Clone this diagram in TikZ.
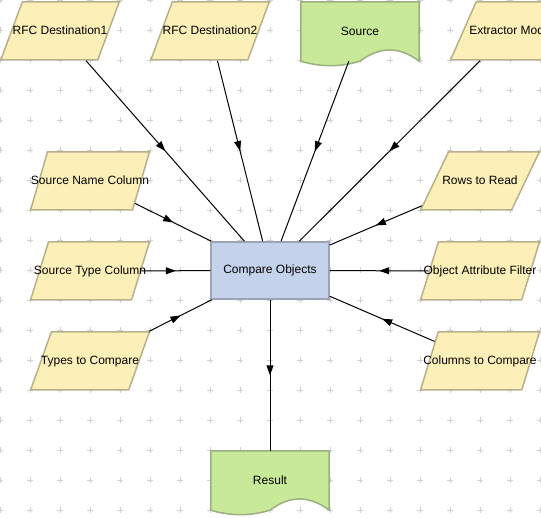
\documentclass[tikz,border=0pt]{standalone}
\usepackage{fontspec}
\setmainfont{Liberation Sans}
\usetikzlibrary{shapes.geometric, arrows.meta, decorations.markings, backgrounds}
\definecolor{parfill}{HTML}{FCF0B8}
\definecolor{pardraw}{HTML}{B8B08C}
\definecolor{docfill}{HTML}{C8EA98}
\definecolor{docdraw}{HTML}{9AB080}
\definecolor{boxfill}{HTML}{C4D2EC}
\definecolor{boxdraw}{HTML}{9AA4B6}
\definecolor{gridgray}{HTML}{D0D0D0}

\begin{document}
\begin{tikzpicture}[x=1pt, y=-1pt, font=\fontsize{12}{14}\selectfont,
    param/.style={trapezium, trapezium left angle=75, trapezium right angle=105,
      trapezium stretches=true, draw=pardraw, fill=parfill, line width=1.5pt,
      minimum width=119pt, text height=8.6pt, text depth=2.4pt,
      inner xsep=-20pt, inner ysep=23.5pt},
    doc/.style={minimum width=118pt, minimum height=59pt, inner sep=0pt},
    docshape/.style={draw=docdraw, fill=docfill, line width=1.5pt},
    task/.style={draw=boxdraw, fill=boxfill, line width=1.5pt,
      minimum width=118pt, minimum height=57pt},
    flow/.style={black, line width=1pt, postaction={decorate},
      decoration={markings, mark=at position 0.5 with {\arrow{Triangle[length=10pt,width=7pt]}}}},
    gridmark/.style={gridgray, line width=0.8pt}]
    \useasboundingbox (0,0) rectangle (541,518);

    \node[param] (rfc1) at (60,31) {RFC Destination1};
    \node[param] (rfc2) at (210,31) {RFC Destination2};
    \node[doc] (src) at (360,31.5) {Source};
    \node[param] (extr) at (510,31) {Extractor Mode};

    \node[param] (snc) at (90,181) {Source Name Column};
    \node[param] (stc) at (90,271) {Source Type Column};
    \node[param] (ttc) at (90,361) {Types to Compare};
    \node[param] (rtr) at (480,181) {Rows to Read};
    \node[param] (oaf) at (480,271) {Object Attribute Filter};
    \node[param] (ctc) at (480,361) {Columns to Compare};

    \node[task] (cmp) at (270,270.5) {Compare Objects};
    \node[doc] (res) at (270,480.5) {Result};

    \begin{scope}[on background layer]
    \foreach \x in {0,30,...,540}{\foreach \y in {0,30,...,510}{\draw[gridmark] (\x-3,\y)--(\x+3,\y) (\x,\y-3)--(\x,\y+3);}}
    \foreach \n in {src,res}{
      \draw[docshape] (\n.north west) -- (\n.north east) -- (\n.south east)
        .. controls +(-20,-15) and +(20,-15) .. (\n.south)
        .. controls +(-20,6) and +(20,6) .. (\n.south west) -- cycle;}
    \end{scope}

    \foreach \n in {rfc1,rfc2,src,extr,snc,stc,ttc,rtr,oaf,ctc}{\draw[flow] (\n) -- (cmp);}
    \draw[flow] (cmp) -- (res);
\end{tikzpicture}
\end{document}
